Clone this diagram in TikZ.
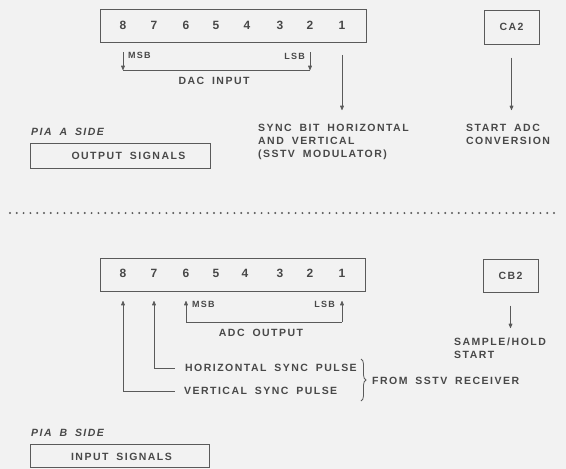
\documentclass[tikz,border=0pt]{standalone}
\usepackage{fontspec}
\setmainfont{Liberation Sans}[LetterSpace=14,WordSpace=1.8]
\usetikzlibrary{arrows.meta,decorations.pathreplacing}
\definecolor{bg}{HTML}{F2F2F2}
\definecolor{ink}{HTML}{484848}
\definecolor{lncol}{HTML}{5A5A5A}
\begin{document}
\begin{tikzpicture}[x=1pt,y=-1pt,
  txt/.style={font=\fontsize{10.5}{13}\selectfont\bfseries, text=ink, inner sep=0pt},
  dig/.style={font=\fontsize{12}{12}\selectfont\bfseries, text=ink, inner sep=0pt},
  sml/.style={font=\fontsize{9}{10}\selectfont\bfseries, text=ink, inner sep=0pt},
  ital/.style={font=\fontsize{10.5}{12}\selectfont\bfseries\itshape, text=ink, inner sep=0pt},
  frame/.style={draw=lncol, line width=1pt, inner sep=0pt},
  wire/.style={draw=lncol, line width=0.8pt},
  tip/.style={-{Latex[length=5.5pt,width=4.5pt,round]}},
  rtip/.style={{Latex[length=5.5pt,width=4.5pt,round]}-},
]
\fill[bg] (0,0) rectangle (566,469);
\useasboundingbox (0,0) rectangle (566,469);

% ---------- PIA A side ----------
\node[frame, minimum width=266, minimum height=33] (regA) at (233,25.5) {};
\foreach \d/\x in {8/123,7/154,6/186,5/216,4/247,3/280,2/310,1/342}
  \node[dig] (a\d) at (\x,25.5) {\d};

\node[sml, anchor=west] (amsb) at (128,55) {MSB};
\node[sml, anchor=east] (alsb) at (305,56) {LSB};
\coordinate (am0) at (123,52);
\coordinate (am1) at (123,70);
\coordinate (al0) at (310,52);
\coordinate (al1) at (310,70);
\draw[wire,tip] (am0) -- (am1);
\draw[wire,tip] (al0) -- (al1);
\draw[wire] (am1) -- (al1);
\node[txt] (dac) at (214,81) {DAC INPUT};

\node[txt, anchor=north west, align=left] (sync) at (258,124)
  {SYNC BIT HORIZONTAL\\AND VERTICAL\\(SSTV MODULATOR)};
\draw[wire,tip,shorten <=25pt,shorten >=14pt] (a1.south) -- (a1.south |- sync.north);

\node[frame, minimum width=55, minimum height=34, txt] (ca2) at (511.5,27) {CA2};
\node[txt, anchor=north west, align=left] (startadc) at (466,124)
  {START ADC\\CONVERSION};
\draw[wire,tip,shorten <=13pt,shorten >=14pt] (ca2.south) -- (ca2.south |- startadc.north);

\node[ital, anchor=west] (piaa) at (31,132) {PIA A SIDE};
\node[frame, minimum width=180, minimum height=25] (outbox) at (120,155.5) {};
\node[txt] (outtxt) at (128.5,156) {OUTPUT SIGNALS};

% ---------- separator ----------
\draw[lncol, line width=2.2pt, line cap=round, dash pattern=on 0pt off 6.8pt] (10,213) -- (554,213);

% ---------- PIA B side ----------
\node[frame, minimum width=265, minimum height=33] (regB) at (232.5,274.5) {};
\foreach \d/\x in {8/123,7/154,6/186,5/216,4/245,3/280,2/310,1/342}
  \node[dig] (b\d) at (\x,273) {\d};

\coordinate (b6t) at (186,301);
\coordinate (b6b) at (186,322);
\coordinate (b1t) at (342,301);
\coordinate (b1b) at (342,322);
\draw[wire,tip] (b6b) -- (b6t);
\draw[wire,tip] (b1b) -- (b1t);
\draw[wire] (b6b) -- (b1b);
\node[sml, anchor=west] (bmsb) at (192,304) {MSB};
\node[sml, anchor=east] (blsb) at (335,304) {LSB};
\node[txt] (adc) at (261,333) {ADC OUTPUT};

\node[txt, anchor=west] (hsync) at (185,368) {HORIZONTAL SYNC PULSE};
\node[txt, anchor=west] (vsync) at (184,391) {VERTICAL SYNC PULSE};
\coordinate (b7t) at (154,301);
\coordinate (b8t) at (123,301);
\draw[wire,rtip] (b7t) |- ([xshift=-10pt]hsync.west);
\draw[wire,rtip] (b8t) |- ([xshift=-9pt]vsync.west);

\coordinate (brT) at (361,359);
\coordinate (brB) at (361,401);
\draw[wire, decorate, decoration={brace, amplitude=5pt}] (brT) -- (brB);
\node[txt, anchor=west] (from) at (372,381) {FROM SSTV RECEIVER};

\node[frame, minimum width=55, minimum height=33, txt] (cb2) at (510.5,275.5) {CB2};
\node[txt, anchor=north west, align=left] (sh) at (454,338)
  {SAMPLE\,/\,HOLD\\START};
\draw[wire,tip,shorten <=13pt,shorten >=10pt] (cb2.south) -- (cb2.south |- sh.north);

\node[ital, anchor=west] (piab) at (31,433) {PIA B SIDE};
\node[frame, minimum width=179, minimum height=23] (inbox) at (119.5,455.5) {};
\node[txt] (intxt) at (121.5,456.5) {INPUT SIGNALS};
\end{tikzpicture}
\end{document}
